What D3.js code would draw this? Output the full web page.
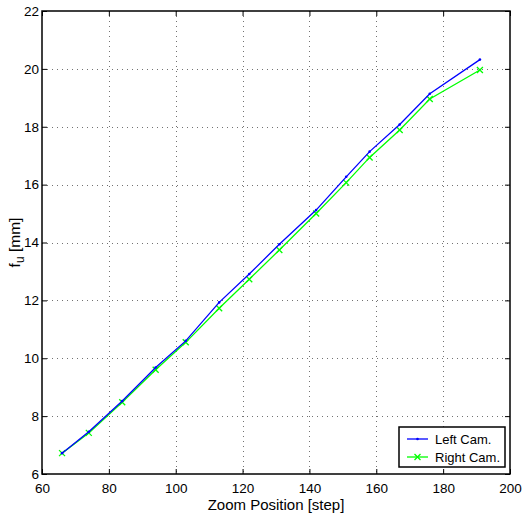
<!DOCTYPE html>
<html>
<head>
<meta charset="utf-8">
<script src="https://cdn.jsdelivr.net/npm/d3@7"></script>
<style>
  body { margin: 0; background: #fff; }
  svg { display: block; font-family: "Liberation Sans", Arial, sans-serif; }
</style>
</head>
<body>
<div id="viz"></div>
<script>
// zoom positions (steps)
const zoomSteps = [66, 74, 84, 94, 103, 113, 122, 131, 142, 151, 158, 167, 176, 191];
// focal length f_u [mm]
const leftCam  = [6.72, 7.46, 8.52, 9.68, 10.6, 11.93, 12.91, 13.94, 15.12, 16.27, 17.14, 18.08, 19.14, 20.32];
const rightCam = [6.72, 7.42, 8.48, 9.60, 10.55, 11.73, 12.73, 13.74, 15.0, 16.07, 16.94, 17.89, 18.96, 19.96];
const xTicks = [60, 80, 100, 120, 140, 160, 180, 200];
const yTicks = [6, 8, 10, 12, 14, 16, 18, 20, 22];

const width = 522;
const height = 521;
const margin = { top: 11, right: 12, bottom: 47, left: 42 };

const svg = d3.select("#viz")
    .append("svg")
    .attr("width", width)
    .attr("height", height);

const x = d3.scaleLinear().domain([60, 200]).range([margin.left, width - margin.right]);
const y = d3.scaleLinear().domain([6, 22]).range([height - margin.bottom, margin.top]);

const plotW = width - margin.left - margin.right;
const plotH = height - margin.top - margin.bottom;

//Grid
const grid = svg.append("g")
    .attr("stroke", "#000")
    .attr("stroke-width", 1)
    .attr("stroke-dasharray", "1,4")
    .attr("opacity", 0.55);
grid.selectAll(".gx")
    .data(xTicks.slice(1, -1))
    .join("line")
    .attr("x1", d => Math.round(x(d)) + 0.5)
    .attr("x2", d => Math.round(x(d)) + 0.5)
    .attr("y1", margin.top)
    .attr("y2", height - margin.bottom);
grid.selectAll(".gy")
    .data(yTicks.slice(1, -1))
    .join("line")
    .attr("y1", d => Math.round(y(d)) + 0.5)
    .attr("y2", d => Math.round(y(d)) + 0.5)
    .attr("x1", margin.left)
    .attr("x2", width - margin.right);

//Axes, ticks inward like matlab
const tickLen = 5;
const axisStyle = g => {
    g.select(".domain").remove();
    g.selectAll(".tick line").attr("stroke", "#000");
    g.selectAll(".tick text").attr("font-size", 13.5).attr("fill", "#000");
};

svg.append("g")
    .attr("transform", `translate(0,${height - margin.bottom})`)
    .call(d3.axisBottom(x).tickValues(xTicks).tickSizeInner(-tickLen).tickSizeOuter(0).tickPadding(9))
    .call(axisStyle);
svg.append("g")
    .attr("transform", `translate(0,${margin.top})`)
    .call(d3.axisTop(x).tickValues(xTicks).tickSizeInner(-tickLen).tickSizeOuter(0).tickFormat(""))
    .call(axisStyle);
svg.append("g")
    .attr("transform", `translate(${margin.left},0)`)
    .call(d3.axisLeft(y).tickValues(yTicks).tickSizeInner(-tickLen).tickSizeOuter(0).tickPadding(3))
    .call(axisStyle);
svg.append("g")
    .attr("transform", `translate(${width - margin.right},0)`)
    .call(d3.axisRight(y).tickValues(yTicks).tickSizeInner(-tickLen).tickSizeOuter(0).tickFormat(""))
    .call(axisStyle);

svg.append("rect")
    .attr("x", margin.left)
    .attr("y", margin.top)
    .attr("width", plotW)
    .attr("height", plotH)
    .attr("fill", "none")
    .attr("stroke", "#000")
    .attr("stroke-width", 1.5);

//Series
const series = [
    { name: "Left Cam.", values: leftCam, color: "#0000ff", marker: "dot" },
    { name: "Right Cam.", values: rightCam, color: "#00ff00", marker: "x" }
];

const line = d3.line()
    .x(d => x(d[0]))
    .y(d => y(d[1]));

// draw right first so left sits on top where they overlap
series.slice().reverse().forEach(s => {
    const pts = zoomSteps.map((z, i) => [z, s.values[i]]);
    const g = svg.append("g");
    g.append("path")
        .attr("d", line(pts))
        .attr("fill", "none")
        .attr("stroke", s.color)
        .attr("stroke-width", 1.3);
    if (s.marker === "x") {
        g.selectAll("path.m")
            .data(pts)
            .join("path")
            .attr("class", "m")
            .attr("d", d => `M${x(d[0]) - 3},${y(d[1]) - 3}L${x(d[0]) + 3},${y(d[1]) + 3}M${x(d[0]) - 3},${y(d[1]) + 3}L${x(d[0]) + 3},${y(d[1]) - 3}`)
            .attr("stroke", s.color)
            .attr("stroke-width", 1.3);
    } else {
        g.selectAll("circle")
            .data(pts)
            .join("circle")
            .attr("cx", d => x(d[0]))
            .attr("cy", d => y(d[1]))
            .attr("r", 1.3)
            .attr("fill", s.color);
    }
});

//Axis labels
svg.append("text")
    .attr("x", x(130))
    .attr("y", height - 11)
    .attr("text-anchor", "middle")
    .attr("font-size", 15)
    .text("Zoom Position [step]");

const yl = svg.append("text")
    .attr("transform", `translate(20,${y(14)}) rotate(-90)`)
    .attr("text-anchor", "middle")
    .attr("font-size", 15.5);
yl.append("tspan").text("f");
yl.append("tspan").attr("font-size", 12).attr("dy", 4).text("u");
yl.append("tspan").attr("dy", -4).text(" [mm]");

//Legend
const lg = svg.append("g").attr("transform", "translate(399,427)");
lg.append("rect")
    .attr("width", 106)
    .attr("height", 40)
    .attr("fill", "#fff")
    .attr("stroke", "#000")
    .attr("stroke-width", 1.5);
series.forEach((s, i) => {
    const row = lg.append("g").attr("transform", `translate(0,${12 + i * 18})`);
    row.append("line")
        .attr("x1", 8).attr("x2", 29)
        .attr("stroke", s.color).attr("stroke-width", 1.3);
    if (s.marker === "x") {
        row.append("path")
            .attr("d", "M15.5,-3L21.5,3M15.5,3L21.5,-3")
            .attr("stroke", s.color).attr("stroke-width", 1.3);
    } else {
        row.append("circle").attr("cx", 18.5).attr("r", 1.3).attr("fill", s.color);
    }
    row.append("text")
        .attr("x", 36)
        .attr("dy", "0.35em")
        .attr("font-size", 13)
        .text(s.name);
});
</script>
</body>
</html>
